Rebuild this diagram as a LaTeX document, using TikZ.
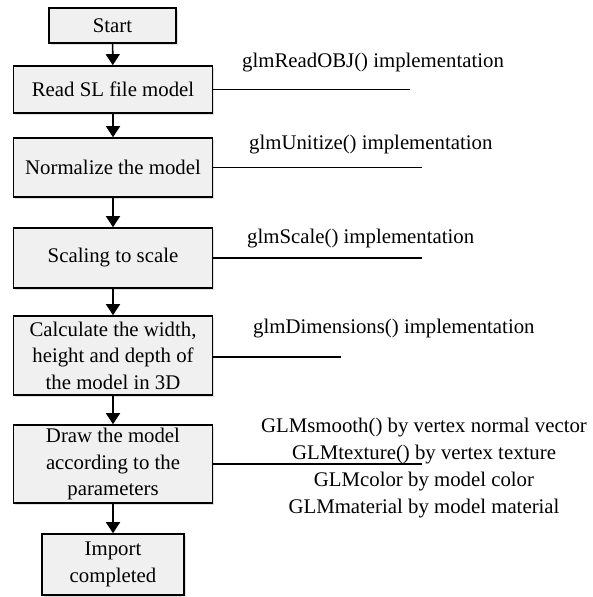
\documentclass[tikz,border=0pt]{standalone}
\usepackage{fontspec}
\setmainfont{Liberation Serif}
\usetikzlibrary{arrows.meta,shadows}
\begin{document}
\begin{tikzpicture}[x=1pt,y=-1pt,
  stepbox/.style={draw=black,line width=1.6pt,fill=gray!12,align=center,
    inner sep=0pt,font=\fontsize{20.8}{26.5}\selectfont,
    drop shadow={shadow xshift=1.5pt,shadow yshift=-1.5pt,opacity=0.25,fill=gray}},
  flow/.style={line width=1.6pt,-{Triangle[length=11pt,width=14pt]}},
  lead/.style={line width=1.4pt},
  note/.style={font=\fontsize{20.8}{26.8}\selectfont,align=center,inner sep=0pt}]
\useasboundingbox (0,0) rectangle (593,597);
% process steps
\node[stepbox,minimum width=127pt,minimum height=35pt] (start) at (112.5,25.5) {Start};
\node[stepbox,minimum width=199pt,minimum height=47pt] (read) at (113,89.5) {Read SL file model};
\node[stepbox,minimum width=199pt,minimum height=59pt] (norm) at (113,167.5) {Normalize the model};
\node[stepbox,minimum width=199pt,minimum height=60pt] (scale) at (113,258) {Scaling to scale};
\node[stepbox,minimum width=199pt,minimum height=79pt] (calc) at (113,355.5) {Calculate the width,\\height and depth of\\the model in 3D};
\node[stepbox,minimum width=199pt,minimum height=78pt] (draw) at (113,464) {Draw the model\\according to the\\parameters};
\node[stepbox,minimum width=142pt,minimum height=61pt] (done) at (113,564.5) {Import\\completed};
% flow arrows
\draw[flow] (start) -- (read);
\draw[flow] (read) -- (norm);
\draw[flow] (norm) -- (scale);
\draw[flow] (scale) -- (calc);
\draw[flow] (calc) -- (draw);
\draw[flow] (draw) -- (done);
% leader line ends
\coordinate (rEnd) at (410,89.5);
\coordinate (nEnd) at (422,167.5);
\coordinate (sEnd) at (422,258);
\coordinate (cEnd) at (341,357);
\coordinate (dEnd) at (422,464);
\draw[lead] (read.east) -- (rEnd);
\draw[lead] (norm.east) -- (nEnd);
\draw[lead] (scale.east) -- (sEnd);
\draw[lead] (calc.east |- cEnd) -- (cEnd);
\draw[lead] (draw.east) -- (dEnd);
% function notes
\node[note,anchor=west] (rNote) at (242,63) {glmReadOBJ() implementation};
\node[note,anchor=west] (nNote) at (249,145) {glmUnitize() implementation};
\node[note,anchor=west] (sNote) at (247,239) {glmScale() implementation};
\node[note,anchor=west] (cNote) at (253,329) {glmDimensions() implementation};
\node[note] (dNote) at (424,468) {GLMsmooth() by vertex normal vector\\GLMtexture() by vertex texture\\GLMcolor by model color\\GLMmaterial by model material};
\end{tikzpicture}
\end{document}
